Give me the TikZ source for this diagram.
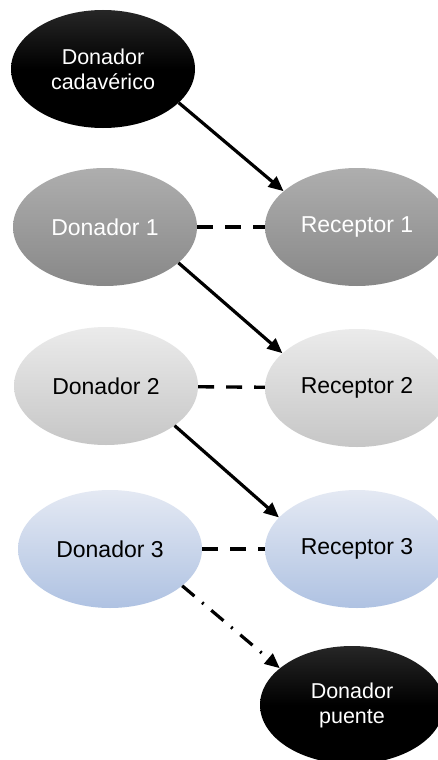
\documentclass[tikz,border=0pt]{standalone}
\usepackage{fontspec}
\setmainfont{Liberation Sans}
\usetikzlibrary{shapes.geometric,arrows.meta}
\definecolor{gtop}{HTML}{AEAEAE}
\definecolor{gbot}{HTML}{888888}
\definecolor{ltop}{HTML}{EBEBEB}
\definecolor{lbot}{HTML}{C6C6C6}
\definecolor{btop}{HTML}{E4E9F3}
\definecolor{bbot}{HTML}{AFC2E2}
\begin{document}
\begin{tikzpicture}[x=1pt,y=-1pt,
  bubble/.style={ellipse, inner sep=0pt, minimum width=184pt, minimum height=118pt,
    font=\fontsize{23}{26}\selectfont, align=center},
  darkb/.style={bubble, top color=black!85, bottom color=black, middle color=black, text=white,
    font=\fontsize{21.5}{25}\selectfont},
  grayb/.style={bubble, top color=gtop, bottom color=gbot, text=white},
  lightb/.style={bubble, top color=ltop, bottom color=lbot, text=black},
  blueb/.style={bubble, top color=btop, bottom color=bbot, text=black},
  arr/.style={line width=3.2pt, -{Triangle[length=15pt,width=13pt]}},
  pair/.style={line width=3.4pt, dash pattern=on 16pt off 12pt},
  bridge/.style={line width=3.2pt, dash pattern=on 16pt off 10pt on 2pt off 10pt, -{Triangle[length=15pt,width=13pt]}}
]
\useasboundingbox (0,0) rectangle (438,760);
\fill[white] (0,0) rectangle (438,760);

\node[darkb] (dc) at (103,69) {Donador\\cadavérico};
\node[grayb] (d1) at (105,227) {Donador 1};
\node[grayb] (r1) at (357,227) {Receptor 1};
\node[lightb] (d2) at (106,386) {Donador 2};
\node[lightb] (r2) at (357,388) {Receptor 2};
\node[blueb] (d3) at (110,549) {Donador 3};
\node[blueb] (r3) at (357,549) {Receptor 3};
\node[darkb] (dp) at (352,705) {Donador\\puente};

\draw[arr] (dc.-24) -- (r1.154);
\draw[arr] (d1.-26) -- (r2.155);
\draw[arr] (d2.-30) -- (r3.158);
\draw[bridge] (d3.-27) -- (dp.153);
\draw[pair] (d1) -- (r1);
\draw[pair] (d2) -- (r2);
\draw[pair] (d3) -- (r3);
\end{tikzpicture}
\end{document}
